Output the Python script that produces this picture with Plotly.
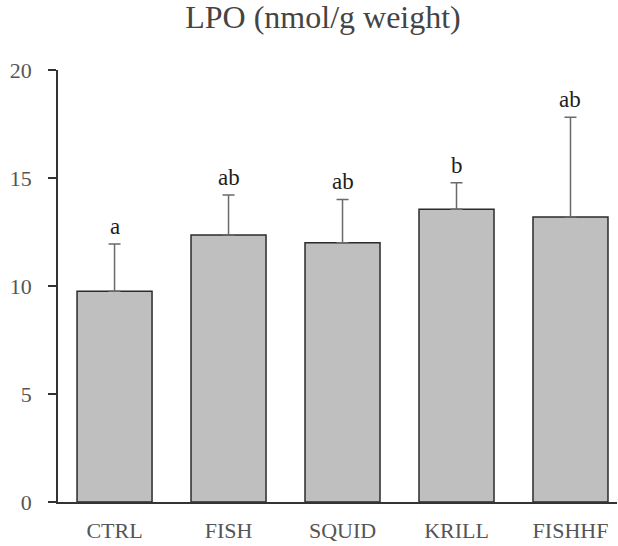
import plotly.graph_objects as go

groups = ["CTRL", "FISH", "SQUID", "KRILL", "FISHHF"]
lpo_mean = [9.76, 12.36, 12.00, 13.55, 13.20]
lpo_err = [2.18, 1.85, 2.01, 1.23, 4.61]
sig_letters = ["a", "ab", "ab", "b", "ab"]
y_ticks = [0, 5, 10, 15, 20]

serif = "Liberation Serif, Times New Roman, serif"

fig = go.Figure(
    go.Bar(
        x=groups,
        y=lpo_mean,
        marker=dict(color="#bfbfbf", line=dict(color="#2b2b2b", width=1.5)),
        error_y=dict(
            type="data",
            array=lpo_err,
            arrayminus=[0] * len(lpo_err),
            symmetric=False,
            color="#6a6a6a",
            thickness=1.5,
            width=6,
        ),
    )
)

for g, m, e, s in zip(groups, lpo_mean, lpo_err, sig_letters):
    fig.add_annotation(
        x=g, y=m + e, text=s, showarrow=False,
        yanchor="bottom", yshift=3,
        font=dict(family=serif, size=23, color="#1e1e1e"),
    )

fig.update_layout(
    width=618,
    height=546,
    margin=dict(l=58, r=1, t=70, b=44),
    paper_bgcolor="white",
    plot_bgcolor="white",
    bargap=0.342,
    showlegend=False,
    title=dict(
        text="LPO (nmol/g weight)",
        x=323 / 618, xanchor="center", xref="container",
        y=0.99, yanchor="top", yref="container",
        font=dict(family=serif, size=32, color="#444444"),
    ),
    xaxis=dict(
        range=[-0.496, 4.408],
        showline=True, linecolor="#333333", linewidth=1.5,
        ticks="", showgrid=False, zeroline=False,
        tickfont=dict(family=serif, size=22, color="#555555"),
        ticklabelstandoff=8,
    ),
    yaxis=dict(
        range=[0, 20],
        tickvals=y_ticks,
        showline=True, linecolor="#333333", linewidth=1.5,
        ticks="outside", ticklen=8, tickwidth=1.5, tickcolor="#333333",
        showgrid=False, zeroline=False,
        tickfont=dict(family=serif, size=22, color="#555555"),
        ticklabelstandoff=12,
    ),
)

fig.write_html("out.html")
